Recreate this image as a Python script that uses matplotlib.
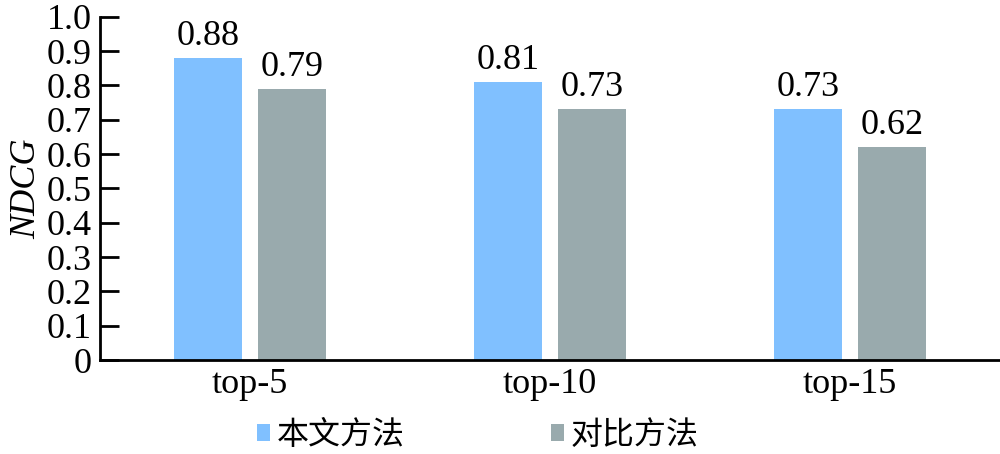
import matplotlib
matplotlib.use("Agg")
import matplotlib.pyplot as plt
import numpy as np

# Dados
categorias = ["top-5", "top-10", "top-15"]
nosso = [0.88, 0.81, 0.73]
comparacao = [0.79, 0.73, 0.62]
rotulos = ["本文方法", "对比方法"]
yticks = [0, 0.1, 0.2, 0.3, 0.4, 0.5, 0.6, 0.7, 0.8, 0.9, 1.0]
ytick_labels = ["0", "0.1", "0.2", "0.3", "0.4", "0.5", "0.6", "0.7", "0.8", "0.9", "1.0"]

plt.rcParams["font.family"] = ["Liberation Serif", "Noto Sans CJK SC"]

fig = plt.figure(figsize=(10, 4.54), dpi=100)
ax = fig.add_axes([0.1, 0.207, 0.9, 0.756])

x = np.arange(len(categorias))
w = 0.227
b1 = ax.bar(x - 0.14, nosso, w, color="#80C0FF", label=rotulos[0])
b2 = ax.bar(x + 0.14, comparacao, w, color="#99AAAD", label=rotulos[1])

for barras in (b1, b2):
    for b in barras:
        ax.text(b.get_x() + b.get_width() / 2, b.get_height() + 0.015,
                "%.2f" % b.get_height(), ha="center", va="bottom", fontsize=26)

ax.set_xlim(-0.5, 2.5)
ax.set_ylim(0, 1.0)
ax.set_yticks(yticks)
ax.set_yticklabels(ytick_labels)
ax.set_xticks(x)
ax.set_xticklabels(categorias)
ax.tick_params(axis="y", direction="in", length=14, width=2, labelsize=26, pad=6)
ax.tick_params(axis="x", length=0, labelsize=26, pad=6)
ax.spines["top"].set_visible(False)
ax.spines["right"].set_visible(False)
ax.spines["left"].set_linewidth(2)
ax.spines["bottom"].set_linewidth(2)
ax.set_ylabel("NDCG", fontsize=26, style="italic", labelpad=2)

fig.legend(handles=[b1, b2], loc="center", bbox_to_anchor=(0.478, 0.04), ncol=2,
           frameon=False, fontsize=23, handlelength=0.4, handleheight=0.4,
           handletextpad=0.2, columnspacing=4.6, borderaxespad=0)

plt.savefig("out.png")
